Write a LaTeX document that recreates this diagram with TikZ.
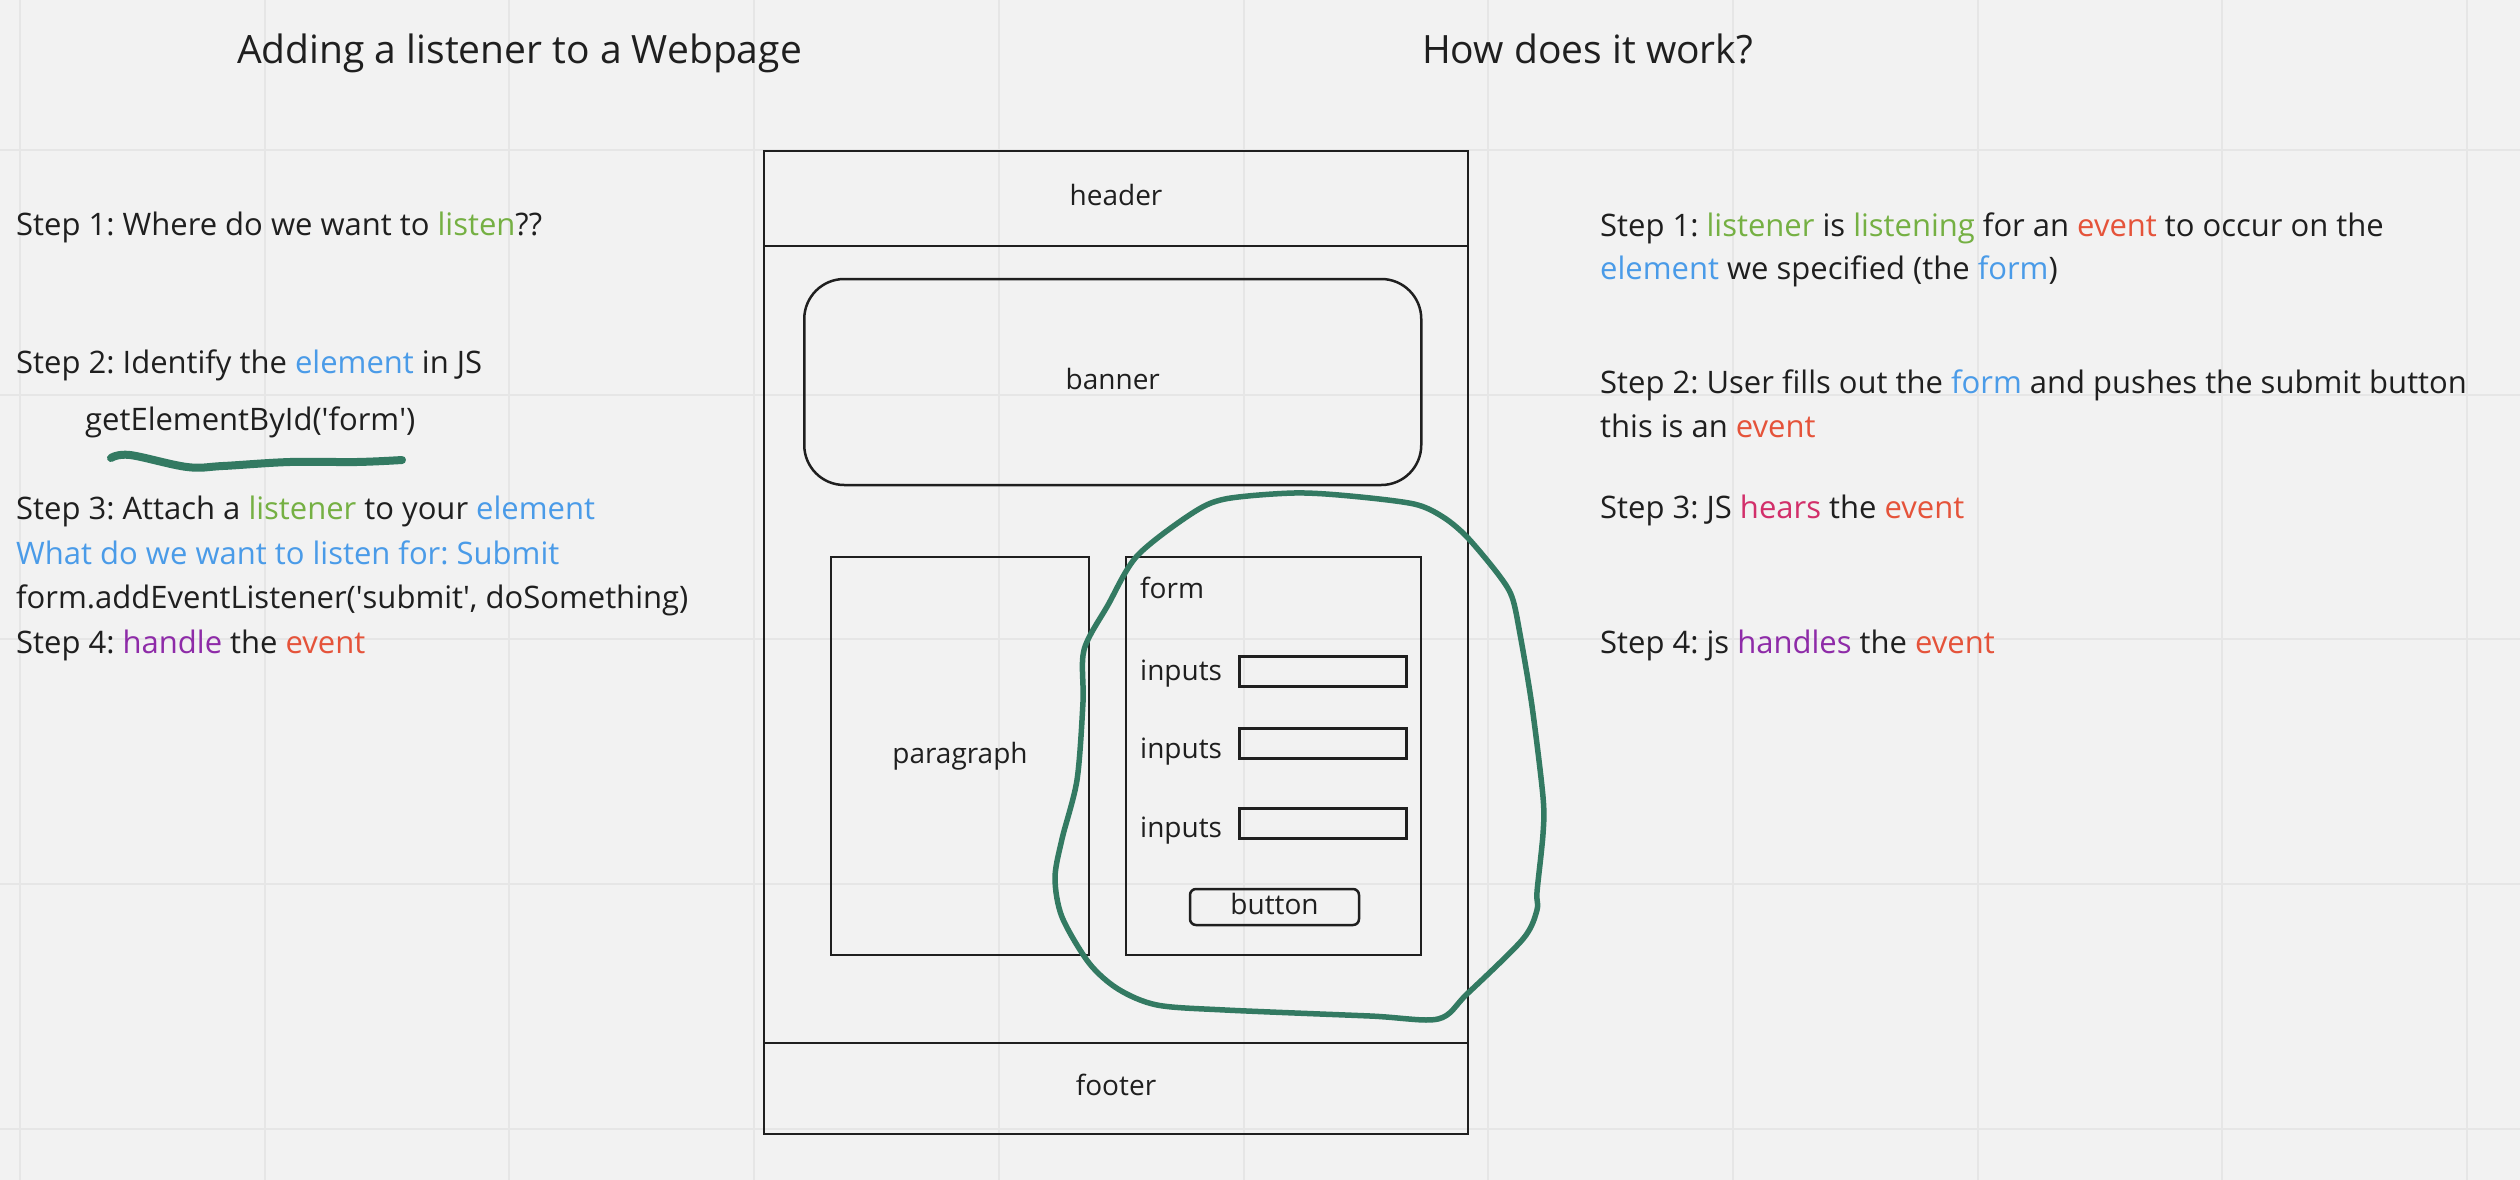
\documentclass[tikz,border=0pt]{standalone}
\usepackage{fontspec}
\setmainfont{Open Sans}
\frenchspacing

\definecolor{board}{HTML}{F2F2F2}
\definecolor{gridgray}{HTML}{E6E6E6}
\definecolor{ink}{HTML}{1F1F1F}
\definecolor{listengreen}{HTML}{75B043}
\definecolor{elemblue}{HTML}{4A9BE8}
\definecolor{eventred}{HTML}{E5533A}
\definecolor{handlepurple}{HTML}{8E2BA8}
\definecolor{hearspink}{HTML}{D22F6A}
\definecolor{marker}{HTML}{337A62}

\begin{document}
\begin{tikzpicture}[x=1pt,y=-1pt,
  words/.style={anchor=base west,inner sep=0pt,text=ink,font=\fontsize{31}{37}\selectfont},
  label/.style={anchor=base west,inner sep=0pt,text=ink,font=\fontsize{28}{34}\selectfont},
  heading/.style={anchor=base west,inner sep=0pt,text=ink,font=\fontsize{39}{47}\selectfont},
  wire/.style={draw=ink,line width=2.5pt,inner sep=0pt,text=ink,
    font=\fontsize{28}{34}\selectfont,text height=20pt,text depth=6pt},
  pen/.style={draw=marker,line cap=round,line join=round}]

\fill[board] (0,0) rectangle (2520,1180);
\useasboundingbox (0,0) rectangle (2520,1180);
\foreach \gx in {20,264.7,...,2500} \draw[gridgray,line width=2pt] (\gx,0) -- (\gx,1180);
\foreach \gy in {150,394.7,...,1170} \draw[gridgray,line width=2pt] (0,\gy) -- (2520,\gy);

% titles
\node[heading] (lefttitle) at (237,64) {Adding a listener to a Webpage};
\node[heading] (righttitle) at (1422,64) {How does it work?};

% left column
\node[words] (lstep1) at (16,235) {Step 1: Where do we want to \textcolor{listengreen}{listen}??};
\node[words] (lstep2) at (16,373) {Step 2: Identify the \textcolor{elemblue}{element} in JS};
\node[words] (getbyid) at (85,430) {getElementById(\textquotesingle form\textquotesingle)};
\node[words] (lstep3) at (16,519) {Step 3: Attach a \textcolor{listengreen}{listener} to your \textcolor{elemblue}{element}};
\node[words] (lwhat) at (16,564) {\textcolor{elemblue}{What do we want to listen for: Submit}};
\node[words] (laddev) at (16,608) {form.addEventListener(\textquotesingle submit\textquotesingle, doSomething)};
\node[words] (lstep4) at (16,653) {Step 4: \textcolor{handlepurple}{handle} the \textcolor{eventred}{event}};
\draw[pen,line width=8pt] plot[smooth,tension=0.6] coordinates
  {(111,458) (130,455) (187,467) (223,466) (290,462) (357,462) (402,460)};

% the page
\node[wire,minimum width=704pt,minimum height=983pt] (page) at (1116,642.5) {};
\node[wire,minimum width=704pt,minimum height=95pt] (header) at (1116,198.5) {header};
\node[wire,minimum width=704pt,minimum height=91pt] (footer) at (1116,1088.5) {footer};
\node[wire,rounded corners=40pt,minimum width=617pt,minimum height=206pt] (banner) at (1112.75,382) {banner};
\node[wire,minimum width=258pt,minimum height=398pt] (para) at (960,756) {paragraph};
\node[wire,minimum width=295pt,minimum height=398pt] (form) at (1273.5,756) {};
\node[label] (formlabel) at (1140,598) {form};
\node[label] (inputlabel1) at (1140,680) {inputs};
\node[wire,minimum width=167pt,minimum height=30pt] (input1) at (1322.75,671.5) {};
\node[label] (inputlabel2) at (1140,758) {inputs};
\node[wire,minimum width=167pt,minimum height=30pt] (input2) at (1322.75,743.5) {};
\node[label] (inputlabel3) at (1140,837) {inputs};
\node[wire,minimum width=167pt,minimum height=30pt] (input3) at (1322.75,823.5) {};
\node[wire,rounded corners=6pt,minimum width=169pt,minimum height=36pt] (button) at (1274.5,907) {button};

\draw[pen,line width=5.5pt] plot[smooth cycle,tension=0.5] coordinates
  {(1294,493) (1350,496) (1414,504) (1443,517) (1467,537) (1498,574) (1512,597)
   (1520,634) (1532,706) (1543,797) (1543,834) (1537,892) (1537,910) (1523,939)
   (1467,994) (1438,1019) (1370,1016) (1225,1010) (1157,1005) (1118,989) (1089,963)
   (1062,917) (1055,878) (1062,839) (1077,780) (1083,702) (1084,650) (1108,605)
   (1137,556) (1191,514) (1225,499)};

% right column
\node[words] (rstep1) at (1600,236) {Step 1: \textcolor{listengreen}{listener} is \textcolor{listengreen}{listening} for an \textcolor{eventred}{event} to occur on the};
\node[words] (rstep1b) at (1600,279) {\textcolor{elemblue}{element} we specified (the \textcolor{elemblue}{form})};
\node[words] (rstep2) at (1600,393) {Step 2: User fills out the \textcolor{elemblue}{form} and pushes the submit button};
\node[words] (rstep2b) at (1600,437) {this is an \textcolor{eventred}{event}};
\node[words] (rstep3) at (1600,518) {Step 3: JS \textcolor{hearspink}{hears} the \textcolor{eventred}{event}};
\node[words] (rstep4) at (1600,653) {Step 4: js \textcolor{handlepurple}{handles} the \textcolor{eventred}{event}};
\end{tikzpicture}
\end{document}
